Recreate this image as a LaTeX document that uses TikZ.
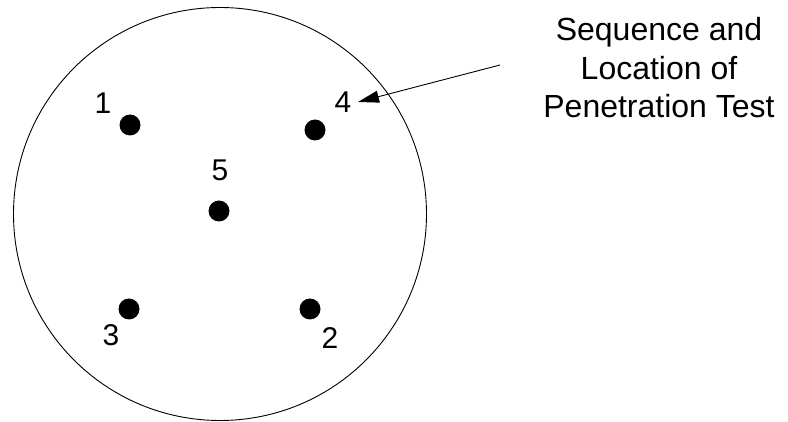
\documentclass[tikz,border=0pt]{standalone}
\usepackage{fontspec}
\setmainfont{Liberation Sans}
\usepackage{tikz}
\usetikzlibrary{arrows.meta, positioning}

\begin{document}
\begin{tikzpicture}[
  x=1pt, y=-1pt,
  hole/.style={circle, fill=black, inner sep=0pt, minimum size=21pt},
  num/.style={font=\fontsize{30}{34}\selectfont, inner sep=2pt},
  note/.style={align=center, font=\fontsize{32}{38.5}\selectfont},
  arrow/.style={-{Triangle[length=21pt, width=12pt]}, line width=0.9pt}
]
\useasboundingbox (0,0) rectangle (788,422);
\node[draw, circle, line width=0.9pt, minimum size=413pt, inner sep=0pt] (specimen) at (220,214) {};
% test points
\node[hole] (p1) at (130,125) {};
\node[hole] (p4) at (315,130) {};
\node[hole] (p5) at (219,211) {};
\node[hole] (p3) at (129,309) {};
\node[hole] (p2) at (310,309) {};
\node[num] (lab1) at (103,103) {1};
\node[num] (lab4) at (343,102) {4};
\node[num] (lab5) at (220,170) {5};
\node[num] (lab3) at (111,335) {3};
\node[num] (lab2) at (330,338) {2};
% callout
\node[note] (caption) at (659,68) {Sequence and\\Location of\\Penetration Test};
\coordinate (tail) at (500,65);
\draw[arrow] (tail) -- ([xshift=4.5pt]lab4.east);
\end{tikzpicture}
\end{document}
